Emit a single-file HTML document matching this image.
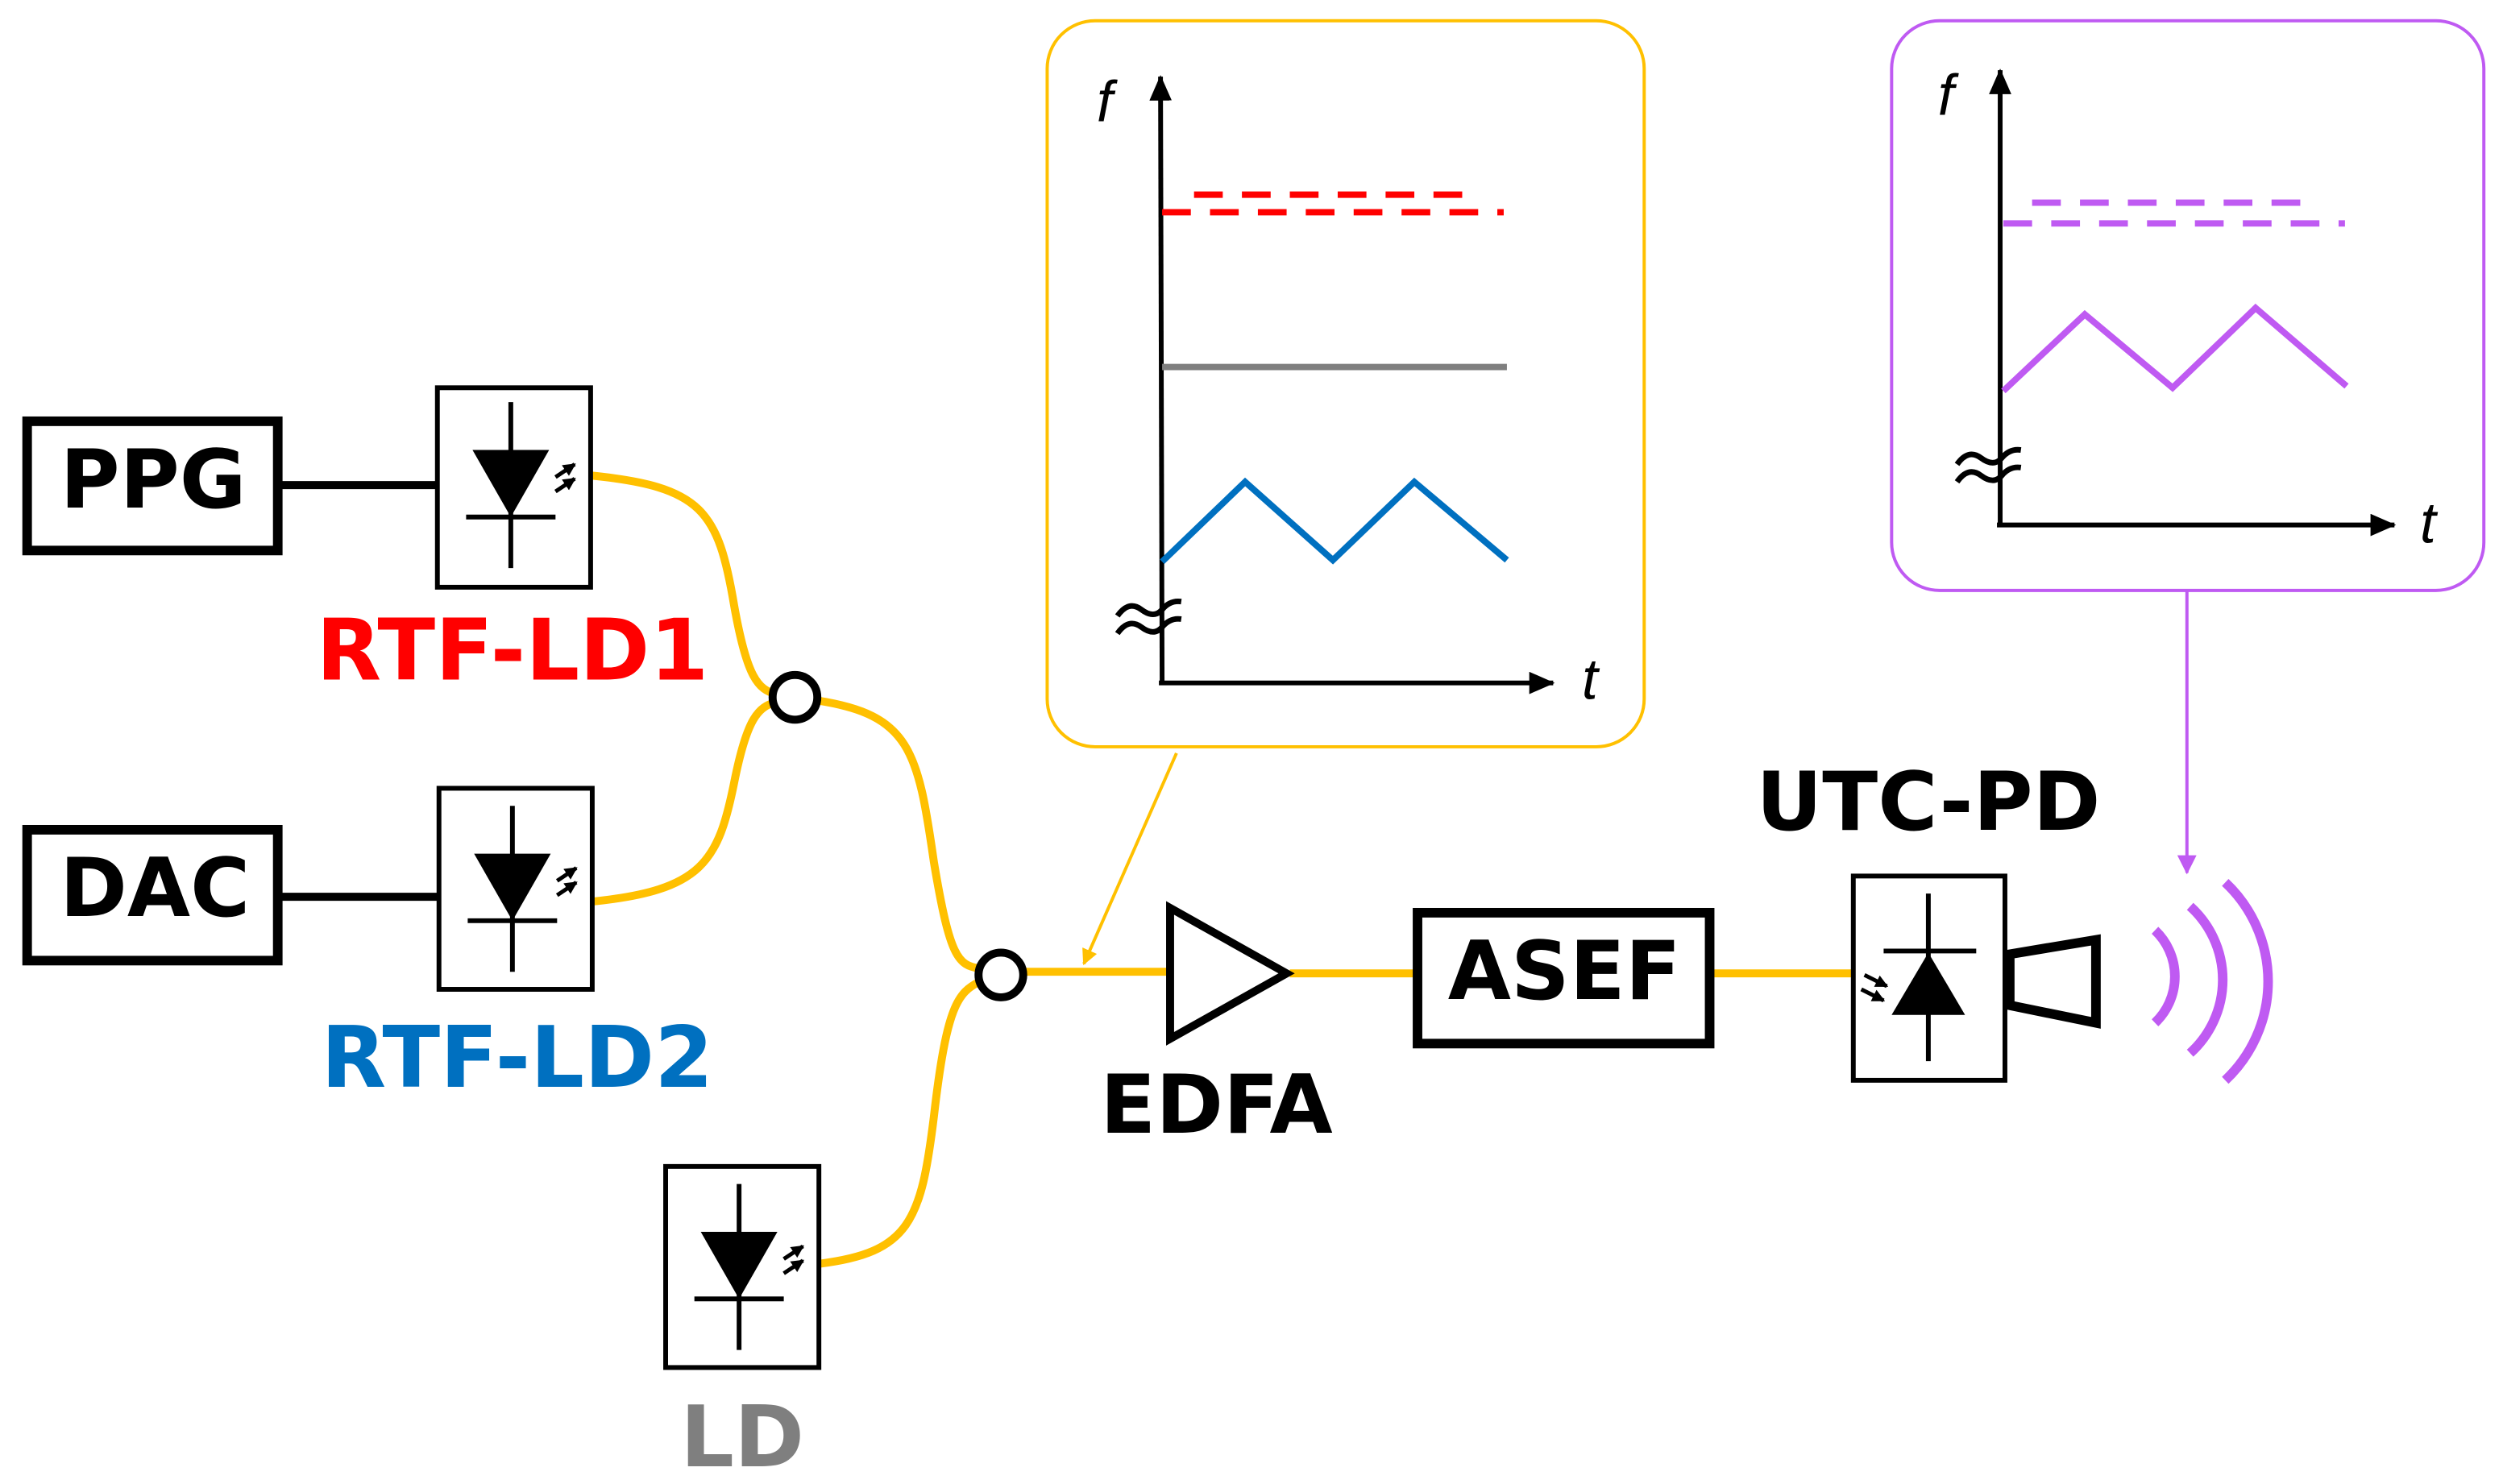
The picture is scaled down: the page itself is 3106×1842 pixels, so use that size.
<!DOCTYPE html>
<html><head><meta charset="utf-8"><style>
html,body{margin:0;padding:0;background:#fff;}
svg{display:block;}
text{font-family:"DejaVu Sans","Liberation Sans",sans-serif;font-weight:bold;}
text.ax{font-family:"Liberation Sans",sans-serif;font-weight:normal;font-style:italic;}
</style></head><body>
<svg width="3106" height="1842" viewBox="0 0 1568 930" preserveAspectRatio="none" xmlns="http://www.w3.org/2000/svg">
<defs>
<marker id="ak" markerWidth="8" markerHeight="8" refX="7" refY="4" orient="auto" markerUnits="userSpaceOnUse"><path d="M0,0 L8,4 L0,8 Z" fill="#000"/></marker>
<marker id="ay" markerWidth="10" markerHeight="10" refX="9" refY="5" orient="auto" markerUnits="userSpaceOnUse"><path d="M0,0 L10,5 L0,10 Z" fill="#ffc000"/></marker>
<marker id="ap" markerWidth="12" markerHeight="12" refX="11" refY="6" orient="auto" markerUnits="userSpaceOnUse"><path d="M0,0 L12,6 L0,12 Z" fill="#bf5af2"/></marker>
<marker id="aa" markerWidth="16" markerHeight="14" refX="15" refY="7" orient="auto" markerUnits="userSpaceOnUse"><path d="M0,0 L16,7 L0,14 Z" fill="#000"/></marker>
<g id="ldsym">
<line x1="0" y1="-52" x2="0" y2="52" stroke="#000" stroke-width="3"/>
<path d="M-24,-22 L24,-22 L0,20 Z" fill="#000"/>
<line x1="-28" y1="20" x2="28" y2="20" stroke="#000" stroke-width="3"/>
<line x1="28" y1="-5" x2="40" y2="-13" stroke="#000" stroke-width="2.5" marker-end="url(#ak)"/>
<line x1="28" y1="4" x2="40" y2="-4" stroke="#000" stroke-width="2.5" marker-end="url(#ak)"/>
</g>
</defs>

<g fill="none" stroke="#ffc000" stroke-width="5">
<path d="M370,298 C440,305 450,320 460,380 C468,425 475,432 486,435"/>
<path d="M371,565 C440,558 450,540 460,490 C468,450 475,443 486,440"/>
<path d="M512,439 C570,448 575,470 585,540 C595,600 600,605 614,607"/>
<path d="M513,792 C570,785 577,765 585,700 C593,630 600,622 614,615"/>
<line x1="641" y1="609" x2="733" y2="609"/>
<line x1="808" y1="610" x2="887" y2="610"/>
<line x1="1072" y1="610" x2="1160" y2="610"/>
</g>
<circle cx="498" cy="437" r="14" fill="#fff" stroke="#000" stroke-width="5"/>
<circle cx="627" cy="611" r="14" fill="#fff" stroke="#000" stroke-width="5"/>

<rect x="17" y="264" width="157" height="81" fill="#fff" stroke="#000" stroke-width="6"/>
<text x="96" y="318" font-size="51" text-anchor="middle">PPG</text>
<line x1="176" y1="304" x2="274" y2="304" stroke="#000" stroke-width="5"/>
<rect x="17" y="520" width="157" height="82" fill="#fff" stroke="#000" stroke-width="6"/>
<text x="97" y="574" font-size="51" text-anchor="middle">DAC</text>
<line x1="176" y1="562" x2="275" y2="562" stroke="#000" stroke-width="5"/>

<rect x="274" y="243" width="96" height="125" fill="#fff" stroke="#000" stroke-width="3"/>
<use href="#ldsym" x="320" y="304"/>
<text x="321" y="426" font-size="53" fill="#ff0000" text-anchor="middle">RTF-LD1</text>
<rect x="275" y="494" width="96" height="126" fill="#fff" stroke="#000" stroke-width="3"/>
<use href="#ldsym" x="321" y="557"/>
<text x="324" y="681" font-size="53" fill="#0070c0" text-anchor="middle">RTF-LD2</text>
<rect x="417" y="731" width="96" height="126" fill="#fff" stroke="#000" stroke-width="3"/>
<use href="#ldsym" x="463" y="794"/>
<text x="465" y="919" font-size="53" fill="#7f7f7f" text-anchor="middle">LD</text>

<path d="M733,569 L733,651 L806,610 Z" fill="#fff" stroke="#000" stroke-width="5"/>
<text x="762" y="710" font-size="51" text-anchor="middle">EDFA</text>
<rect x="888" y="572" width="183" height="82" fill="#fff" stroke="#000" stroke-width="6"/>
<text x="980" y="626" font-size="51" text-anchor="middle">ASEF</text>
<text x="1208" y="520" font-size="51" text-anchor="middle">UTC-PD</text>
<rect x="1161" y="549" width="95" height="128" fill="#fff" stroke="#000" stroke-width="3"/>
<line x1="1208" y1="560" x2="1208" y2="665" stroke="#000" stroke-width="3"/>
<line x1="1180" y1="596" x2="1238" y2="596" stroke="#000" stroke-width="3"/>
<path d="M1185,636 L1231,636 L1208,597 Z" fill="#000"/>
<line x1="1168" y1="611" x2="1182" y2="618" stroke="#000" stroke-width="2.5" marker-end="url(#ak)"/>
<line x1="1166" y1="620" x2="1180" y2="627" stroke="#000" stroke-width="2.5" marker-end="url(#ak)"/>
<path d="M1259,598 L1313,589 L1313,641 L1259,630 Z" fill="#fff" stroke="#000" stroke-width="6"/>
<g fill="none" stroke="#bf5af2" stroke-width="6">
<path d="M1350,583 A40,40 0 0 1 1350,641"/>
<path d="M1372,568 A62,62 0 0 1 1372,660"/>
<path d="M1394,553 A85,85 0 0 1 1394,677"/>
</g>

<rect x="656" y="13" width="374" height="455" rx="30" fill="#fff" stroke="#ffc000" stroke-width="2"/>
<line x1="737" y1="472" x2="679" y2="604" stroke="#ffc000" stroke-width="2" marker-end="url(#ay)"/>
<line x1="728" y1="428" x2="727" y2="48" stroke="#000" stroke-width="3" marker-end="url(#aa)"/>
<line x1="726" y1="428" x2="973" y2="428" stroke="#000" stroke-width="3" marker-end="url(#aa)"/>
<text class="ax" x="692" y="76" font-size="36" text-anchor="middle">f</text>
<text class="ax" x="996" y="438" font-size="36" text-anchor="middle">t</text>
<line x1="748" y1="122" x2="922" y2="122" stroke="#ff0000" stroke-width="4" stroke-dasharray="18,12"/>
<line x1="728" y1="133" x2="942" y2="133" stroke="#ff0000" stroke-width="4" stroke-dasharray="18,12"/>
<line x1="728" y1="230" x2="944" y2="230" stroke="#7f7f7f" stroke-width="4"/>
<polyline points="728,352 780,302 835,351 886,302 944,351" fill="none" stroke="#0070c0" stroke-width="4"/>
<g fill="none" stroke="#000" stroke-width="3.5">
<path d="M700,386 q7,-10 15,-4 t13,0 t12,-5"/>
<path d="M700,397 q7,-10 15,-4 t13,0 t12,-5"/>
</g>

<rect x="1185" y="13" width="371" height="357" rx="30" fill="#fff" stroke="#bf5af2" stroke-width="2"/>
<line x1="1370" y1="370" x2="1370" y2="547" stroke="#bf5af2" stroke-width="2" marker-end="url(#ap)"/>
<line x1="1253" y1="330" x2="1253" y2="44" stroke="#000" stroke-width="3" marker-end="url(#aa)"/>
<line x1="1251" y1="329" x2="1500" y2="329" stroke="#000" stroke-width="3" marker-end="url(#aa)"/>
<text class="ax" x="1219" y="72" font-size="36" text-anchor="middle">f</text>
<text class="ax" x="1521" y="340" font-size="36" text-anchor="middle">t</text>
<line x1="1273" y1="127" x2="1452" y2="127" stroke="#bf5af2" stroke-width="4" stroke-dasharray="18,12"/>
<line x1="1255" y1="140" x2="1469" y2="140" stroke="#bf5af2" stroke-width="4" stroke-dasharray="18,12"/>
<polyline points="1255,245 1306,197 1361,243 1413,193 1470,242" fill="none" stroke="#bf5af2" stroke-width="4"/>
<g fill="none" stroke="#000" stroke-width="3.5">
<path d="M1226,291 q7,-10 15,-4 t13,0 t12,-5"/>
<path d="M1226,302 q7,-10 15,-4 t13,0 t12,-5"/>
</g>
</svg>
</body></html>
